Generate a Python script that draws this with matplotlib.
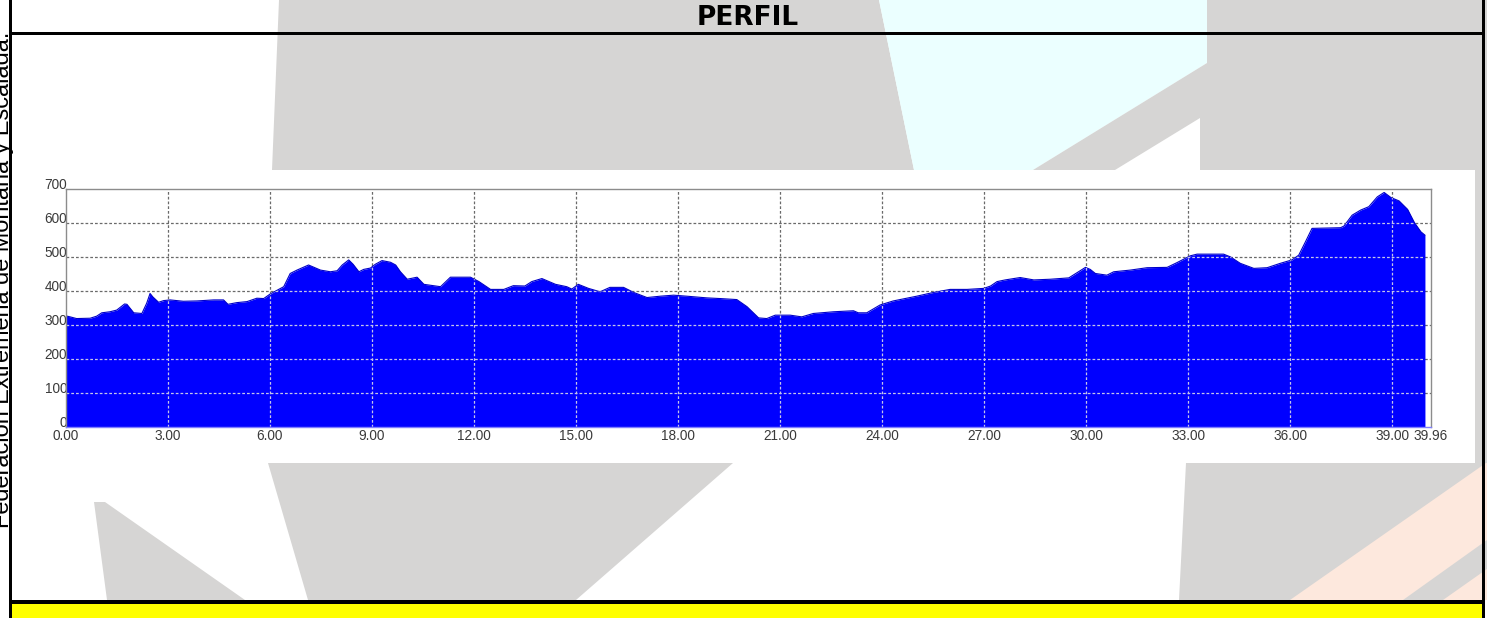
import matplotlib
matplotlib.use("Agg")
import matplotlib.pyplot as plt
from matplotlib.patches import Polygon, Rectangle
from matplotlib.transforms import ScaledTranslation

# elevation profile: distance (km) and altitude (m)
dist_km = [0.00, 0.13, 0.32, 0.72, 0.91, 1.06, 1.30, 1.50, 1.73, 1.80, 2.00, 2.24, 2.38, 2.48,
           2.56, 2.73, 2.88, 3.07, 3.46, 3.86, 4.35, 4.64, 4.77, 5.03, 5.33, 5.62, 5.82, 6.02,
           6.41, 6.60, 6.80, 7.14, 7.49, 7.78, 7.98, 8.13, 8.32, 8.45, 8.62, 8.76, 8.96, 9.10,
           9.30, 9.55, 9.70, 9.84, 10.04, 10.33, 10.53, 11.02, 11.31, 11.90, 12.15, 12.49,
           12.88, 13.16, 13.50, 13.70, 14.00, 14.40, 14.73, 14.88, 15.07, 15.37, 15.71, 16.00,
           16.40, 16.70, 17.09, 17.48, 17.87, 18.26, 18.85, 19.24, 19.73, 20.03, 20.37, 20.61,
           20.86, 21.30, 21.64, 21.98, 22.57, 23.16, 23.30, 23.55, 23.94, 24.33, 25.02, 25.51,
           26.00, 26.50, 26.99, 27.19, 27.38, 27.62, 28.06, 28.46, 28.95, 29.49, 29.73, 29.98,
           30.12, 30.27, 30.61, 30.81, 31.30, 31.79, 32.38, 32.67, 33.06, 33.26, 34.04, 34.24,
           34.53, 34.93, 35.32, 35.71, 36.05, 36.25, 36.45, 36.64, 37.48, 37.58, 37.82, 38.07,
           38.31, 38.56, 38.76, 38.96, 39.20, 39.45, 39.65, 39.84, 39.96]
elev_m = [327, 324, 319, 320, 326, 336, 339, 344, 362, 361, 336, 334, 364, 393,
          383, 367, 372, 374, 370, 371, 374, 374, 361, 366, 369, 379, 378, 392,
          413, 452, 462, 477, 462, 457, 460, 477, 492, 479, 457, 464, 468, 479,
          490, 485, 477, 457, 435, 441, 420, 413, 441, 441, 428, 405,
          405, 416, 415, 428, 437, 420, 413, 406, 420, 408, 398, 411,
          411, 396, 381, 385, 388, 385, 380, 378, 375, 354, 321, 319,
          329, 329, 324, 334, 339, 342, 336, 336, 359, 371, 385, 396,
          405, 405, 408, 415, 428, 433, 440, 433, 435, 439, 454, 470,
          464, 452, 447, 457, 462, 469, 470, 484, 504, 509, 509, 501,
          482, 467, 469, 482, 492, 506, 546, 585, 587, 592, 624, 639,
          649, 678, 691, 676, 666, 641, 602, 575, 565]

x_ticks = [0, 3, 6, 9, 12, 15, 18, 21, 24, 27, 30, 33, 36, 39, 39.96]
y_ticks = [0, 100, 200, 300, 400, 500, 600, 700]
x_grid = [3, 6, 9, 12, 15, 18, 21, 24, 27, 30, 33, 36, 39]
y_grid = [100, 200, 300, 400, 500, 600]

title = "PERFIL"
side_text = "Federación Extremeña de Montaña y Escalada."

W, H = 1487, 618
fig = plt.figure(figsize=(W / 100, H / 100), dpi=100)

# page layer in pixel coordinates (y down)
bg = fig.add_axes([0, 0, 1, 1])
bg.set_xlim(0, W)
bg.set_ylim(H, 0)
bg.axis('off')

GRAY = '#d6d5d4'
CYAN = '#ebffff'
PEACH = '#fde8dd'

# faded logo shapes behind the page
shapes = [
    (GRAY, [(279, 0), (879, 0), (914, 170), (272, 170)]),
    (CYAN, [(879, 0), (1207, 0), (1207, 63), (1033, 170), (914, 170)]),
    (GRAY, [(1207, 0), (1487, 0), (1487, 170), (1200, 170), (1200, 118),
            (1115, 170), (1033, 170), (1207, 63)]),
    (GRAY, [(1470, 165), (1487, 165), (1487, 470), (1470, 470)]),
    (GRAY, [(94, 502), (105, 502), (245, 600), (107, 600)]),
    (GRAY, [(268, 463), (733, 463), (576, 600), (308, 600)]),
    (GRAY, [(1186, 463), (1487, 463), (1487, 600), (1179, 600)]),
    (PEACH, [(1486, 463), (1487, 463), (1487, 540), (1403, 600), (1290, 600)]),
    (PEACH, [(1487, 569), (1487, 600), (1443, 600)]),
]
for color, pts in shapes:
    bg.add_patch(Polygon(pts, closed=True, facecolor=color, edgecolor='none', zorder=1))

# white picture of the chart
bg.add_patch(Rectangle((35, 170), 1440, 293, facecolor='white', edgecolor='none', zorder=2))

# table borders and yellow footer
bg.add_patch(Rectangle((9, 32), 1476, 3, facecolor='black', zorder=3))
bg.add_patch(Rectangle((9, -5), 3, 625, facecolor='black', zorder=3))
bg.add_patch(Rectangle((1482, -5), 3, 625, facecolor='black', zorder=3))
bg.add_patch(Rectangle((9, 600), 1476, 4, facecolor='black', zorder=3))
bg.add_patch(Rectangle((12, 604), 1470, 20, facecolor='#ffff00', zorder=3))

bg.text(748, 18, title, ha='center', va='center', fontsize=19, fontweight='bold',
        family='DejaVu Sans', color='black', zorder=4)
bg.text(14.5, 528, side_text, rotation=90, ha='right', va='bottom', fontsize=16.9,
        family='Liberation Sans', color='black', zorder=4)

# profile chart
ax_l, ax_r, ax_t, ax_b = 65.7, 1431, 189.4, 426.7
ax = fig.add_axes([ax_l / W, 1 - ax_b / H, (ax_r - ax_l) / W, (ax_b - ax_t) / H])
ax.set_facecolor('none')
ax.set_xlim(0, (ax_r - ax_l) / 34.015)
ax.set_ylim(0, 700)

grid_style = dict(linestyles=(0, (2.2, 1.6)), linewidths=0.9)
ax.vlines(x_grid, 0, 700, colors='#6a6a6a', zorder=0.5, **grid_style)
ax.hlines(y_grid, 0, ax.get_xlim()[1], colors='#6a6a6a', zorder=0.5, **grid_style)

fill = ax.fill_between(dist_km, elev_m, 0, color='#0000ff', linewidth=0, zorder=1)
ax.plot(dist_km, elev_m, color='#0000c8', lw=0.8, zorder=1.5)

# light grid seen through the blue area
clip = fill.get_paths()[0]
gv = ax.vlines(x_grid, 0, 700, colors='#c4c4e8', zorder=2, **grid_style)
gh = ax.hlines(y_grid, 0, ax.get_xlim()[1], colors='#c4c4e8', zorder=2, **grid_style)
gv.set_clip_path(clip, ax.transData)
gh.set_clip_path(clip, ax.transData)

for side in ['left', 'top', 'right']:
    ax.spines[side].set_color('#8c8c8c')
    ax.spines[side].set_linewidth(1.0)
ax.spines['bottom'].set_color('#7f7fff')
ax.spines['bottom'].set_linewidth(1.0)

ax.set_xticks(x_ticks)
ax.set_xticklabels([f'{v:.2f}' for v in x_ticks])
ax.set_yticks(y_ticks)
ax.set_yticklabels([str(v) for v in y_ticks])
ax.tick_params(length=0, labelsize=9.8, labelcolor='#3a3a3a')
ax.tick_params(axis='x', pad=2)
ax.tick_params(axis='y', pad=-1)
for lbl in ax.get_xticklabels() + ax.get_yticklabels():
    lbl.set_family('Liberation Sans')
for lbl in ax.get_yticklabels():
    lbl.set_va('baseline')
last = ax.get_xticklabels()[-1]
last.set_transform(last.get_transform() + ScaledTranslation(0.06, 0, fig.dpi_scale_trans))

fig.savefig('out.png', dpi=100)
